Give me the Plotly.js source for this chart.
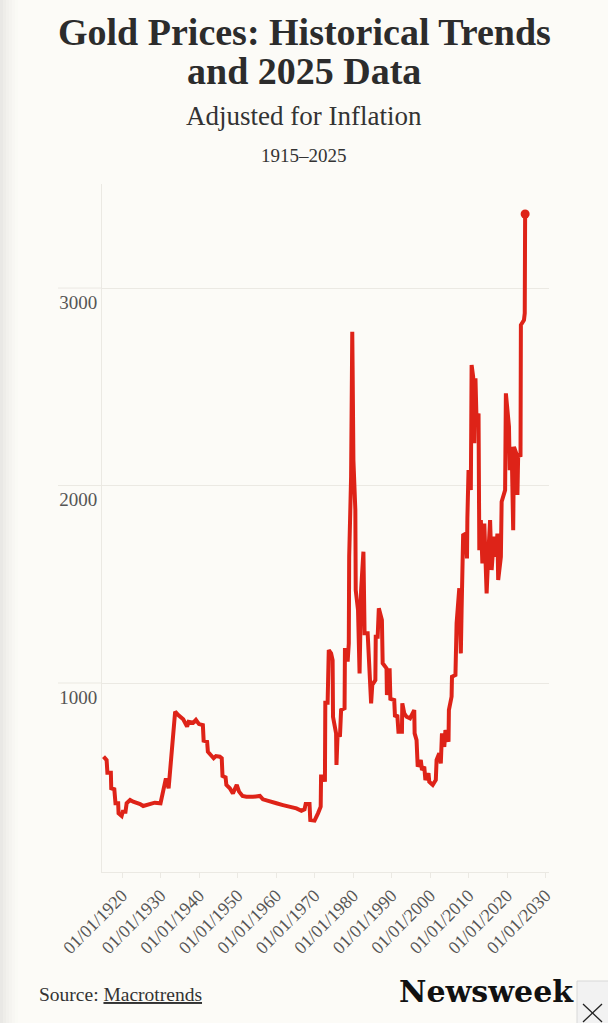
<!DOCTYPE html>
<html>
<head>
<meta charset="utf-8">
<script src="https://cdn.plot.ly/plotly-3.0.1.min.js"></script>
<style>
html,body{margin:0;padding:0;background:#fcfbf7;}
#chart{width:608px;height:1023px;}
</style>
</head>
<body>
<div id="chart"></div>
<script>
// Year (decimal) and inflation-adjusted gold price (USD/oz)
const years = [
1915.2,1916.0,1916.2,1917.1,1917.2,1918.0,1918.3,1919.0,1919.1,1919.9,
1920.2,1920.9,1921.2,1922.1,1922.9,1923.8,1924.7,1925.5,1926.4,1927.3,
1928.5,1930.0,1930.5,1931.1,1931.4,1932.1,1932.9,1933.1,1933.8,1934.6,
1935.9,1936.9,1937.3,1938.5,1939.2,1940.0,1941.0,1941.2,1942.1,1942.3,
1943.1,1943.8,1944.4,1945.4,1945.9,1946.1,1946.9,1947.1,1948.0,1948.8,
1949.8,1950.4,1951.3,1952.3,1954.0,1955.8,1956.6,1958.3,1960.1,1961.8,
1963.5,1965.3,1966.6,1967.4,1967.7,1968.7,1968.9,1970.0,1970.9,1971.6,
1971.7,1972.5,1972.7,1972.8,1973.4,1973.7,1974.3,1974.7,1974.8,1975.6,
1975.7,1976.0,1976.6,1976.9,1977.8,1977.9,1978.4,1978.6,1978.9,1979.0,
1979.5,1979.8,1979.9,1980.1,1980.6,1980.7,1981.3,1981.7,1982.1,1982.7,
1983.0,1983.8,1984.3,1984.4,1984.7,1985.0,1985.8,1985.9,1986.4,1986.7,
1987.5,1987.7,1988.7,1988.8,1989.5,1989.7,1990.7,1990.9,1991.5,1991.8,
1992.7,1992.8,1993.3,1993.9,1994.8,1995.9,1996.0,1996.5,1996.8,1997.6,
1997.9,1998.5,1998.8,1999.6,1999.8,2000.7,2001.5,2001.7,2002.4,2002.8,
2003.1,2003.7,2004.0,2004.8,2004.9,2005.6,2005.7,2006.6,2006.9,2007.6,
2008.0,2008.2,2008.6,2009.3,2009.6,2009.7,2010.0,2010.6,2010.8,2011.2,
2011.5,2011.8,2012.1,2012.6,2012.8,2013.2,2013.6,2014.1,2014.3,2014.7,
2015.1,2015.6,2016.0,2016.6,2017.1,2017.5,2017.7,2018.4,2018.6,2019.5,
2019.7,2020.1,2020.5,2020.7,2021.2,2021.6,2021.8,2022.4,2022.7,2022.9,
2023.5,2023.6,2024.4,2024.6,2024.7
];
const prices = [
627,610,546,546,467,462,391,391,340,327,
348,348,391,408,399,394,387,377,382,391,
394,391,433,478,517,467,644,686,855,838,
816,779,804,799,813,792,787,708,703,652,
635,619,630,627,619,529,522,484,467,441,
484,450,428,424,424,428,411,399,391,382,
374,365,353,360,387,387,306,303,340,374,
526,526,500,900,900,1167,1150,1116,829,745,
585,745,728,863,872,1167,1167,1108,1200,1639,
2045,2779,2585,2129,1876,1471,1370,1049,1471,1665,
1252,1252,998,939,897,990,1015,1234,1234,1378,
1319,1100,1074,939,1074,920,914,829,838,753,
753,897,847,829,821,863,745,711,576,610,
559,576,509,543,500,484,509,610,644,593,
745,677,762,703,863,931,1032,1041,1302,1480,
1150,1370,1749,1757,1631,1834,2078,1977,2610,2551,
2214,2543,2315,2365,1673,1825,1606,1808,1707,1454,
1639,1825,1572,1741,1639,1757,1522,1639,1918,1977,
2467,2348,2298,2078,2196,1774,2196,2163,1952,2163,
2146,2813,2838,2872,3375
];
const xTickVals = [1920,1930,1940,1950,1960,1970,1980,1990,2000,2010,2020,2030];
const xTickText = ['01/01/1920','01/01/1930','01/01/1940','01/01/1950','01/01/1960','01/01/1970',
                   '01/01/1980','01/01/1990','01/01/2000','01/01/2010','01/01/2020','01/01/2030'];
const yTickVals = [1000,2000,3000];
const yTickText = ['1000','2000','3000'];

const W = 608, H = 1023;
const M = {l:102, r:59, t:184, b:151};
const PW = W - M.l - M.r, PH = H - M.t - M.b;
const px = x => (x - M.l) / PW;           // pixel x -> paper x
const py = y => (H - M.b - y) / PH;        // pixel y -> paper y

const RED = '#de2318';
const GRID = '#ebe9e3';
const SERIF = 'Liberation Serif, DejaVu Serif, serif';

const traces = [
  {x: years, y: prices, type:'scatter', mode:'lines',
   line:{color:RED, width:4}, hoverinfo:'skip'},
  {x: [years[years.length-1]], y: [prices[prices.length-1]], type:'scatter', mode:'markers',
   marker:{color:RED, size:9}, hoverinfo:'skip'}
];

const shapes = [];
// left edge shading
const shade = ['#e9e8e5','#eeede9','#f2f1ed','#f5f4f0','#f8f7f3','#fafaf5'];
shade.forEach((c,i)=>{
  shapes.push({type:'rect', xref:'paper', yref:'paper', x0:px(i*3), x1:px(i*3+3), y0:py(H), y1:py(0),
    fillcolor:c, line:{width:0}, layer:'below'});
});
// gridline extensions to the left of the axis
yTickVals.forEach(v=>{
  shapes.push({type:'line', xref:'paper', yref:'y', x0:px(58), x1:0, y0:v, y1:v,
    line:{color:GRID, width:1}});
});
// close box (bottom right)
shapes.push({type:'rect', xref:'paper', yref:'paper', x0:px(577), x1:px(609), y0:py(1024), y1:py(981),
  fillcolor:'#f2f2f2', line:{color:'#d8d8d8', width:1}});
shapes.push({type:'line', xref:'paper', yref:'paper', x0:px(583), x1:px(602), y0:py(1004), y1:py(1022),
  line:{color:'#222', width:1.3}});
shapes.push({type:'line', xref:'paper', yref:'paper', x0:px(583), x1:px(602), y0:py(1022), y1:py(1004),
  line:{color:'#222', width:1.3}});

const annotations = [
  {text:'<b>Gold Prices: Historical Trends</b>', xref:'paper', yref:'paper', x:px(304), y:py(32),
   xanchor:'center', yanchor:'middle', showarrow:false,
   font:{family:SERIF, size:38, color:'#2c2c2c'}},
  {text:'<b>and 2025 Data</b>', xref:'paper', yref:'paper', x:px(304), y:py(71),
   xanchor:'center', yanchor:'middle', showarrow:false,
   font:{family:SERIF, size:38, color:'#2c2c2c'}},
  {text:'Adjusted for Inflation', xref:'paper', yref:'paper', x:px(304), y:py(116),
   xanchor:'center', yanchor:'middle', showarrow:false,
   font:{family:SERIF, size:27, color:'#333'}},
  {text:'1915–2025', xref:'paper', yref:'paper', x:px(304), y:py(155),
   xanchor:'center', yanchor:'middle', showarrow:false,
   font:{family:SERIF, size:19, color:'#333'}},
  {text:'Source: <u>Macrotrends</u>', xref:'paper', yref:'paper', x:px(37), y:py(994),
   xanchor:'left', yanchor:'middle', showarrow:false,
   font:{family:SERIF, size:19.5, color:'#333'}},
  {text:'<b>Newsweek</b>', xref:'paper', yref:'paper', x:px(486), y:py(991),
   xanchor:'center', yanchor:'middle', showarrow:false,
   font:{family:'DejaVu Serif, serif', size:30, color:'#111'}}
];

const layout = {
  width:W, height:H,
  margin:M,
  paper_bgcolor:'#fcfbf7', plot_bgcolor:'#fcfbf7',
  showlegend:false,
  xaxis:{range:[1914.8, 2030.9], tickmode:'array', tickvals:xTickVals, ticktext:xTickText,
    tickangle:-45, showgrid:false, zeroline:false, showline:true, linecolor:GRID, linewidth:1,
    ticks:'outside', ticklen:5, tickcolor:GRID, tickwidth:1,
    tickfont:{family:SERIF, size:18, color:'#555'}},
  yaxis:{range:[43, 3527], tickmode:'array', tickvals:yTickVals, ticktext:yTickText,
    showgrid:true, gridcolor:GRID, gridwidth:1, zeroline:false, showline:true, linecolor:GRID, linewidth:1,
    ticks:'', ticklabelshift:14, ticklabelstandoff:0,
    tickfont:{family:SERIF, size:19, color:'#555'}},
  shapes:shapes,
  annotations:annotations
};

Plotly.newPlot('chart', traces, layout, {staticPlot:true, displayModeBar:false});
</script>
</body>
</html>
